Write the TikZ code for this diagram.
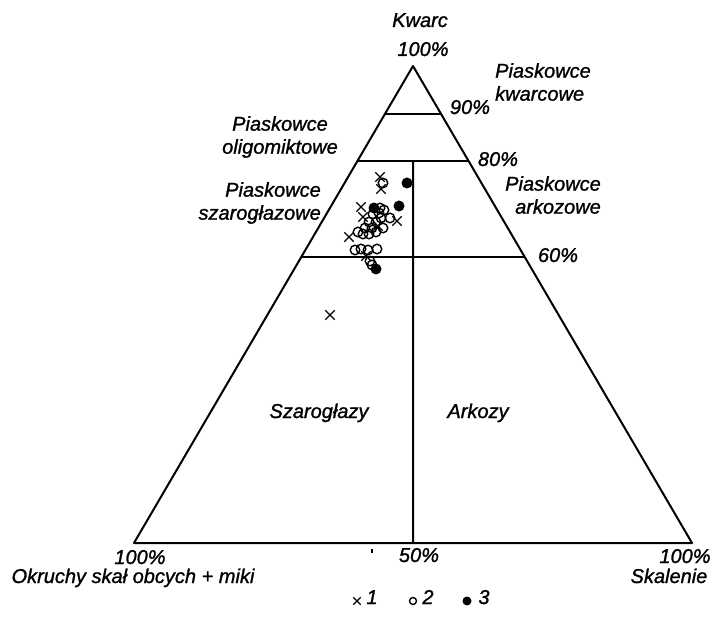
\documentclass[tikz,border=0pt]{standalone}
\usepackage{fontspec}
\setmainfont{Liberation Sans}[ItalicFeatures={FakeBold=1.2}]
\usetikzlibrary{calc, shapes.misc}

\begin{document}
\begin{tikzpicture}[x=1pt, y=-1pt,
  every node/.style={font=\fontsize{20}{23}\selectfont\itshape, inner sep=0pt},
  edge/.style={line width=2pt, line join=round},
  lbl/.style={text height=14pt, text depth=4pt},
  xpt/.style={cross out, draw, line width=1.4pt, minimum size=8pt},
  opt/.style={circle, draw, line width=1.4pt, minimum size=9.5pt},
  dpt/.style={circle, fill, minimum size=11pt}
]
  \useasboundingbox (0,0) rectangle (710,628);
  % wierzcholki
  \coordinate (A) at (413,66);
  \coordinate (L) at (134,543);
  \coordinate (R) at (692,543);
  \coordinate (A90L) at ($(A)!0.1!(L)$);  \coordinate (A90R) at ($(A)!0.1!(R)$);
  \coordinate (A80L) at ($(A)!0.2!(L)$);  \coordinate (A80R) at ($(A)!0.2!(R)$);
  \coordinate (A60L) at ($(A)!0.4!(L)$);  \coordinate (A60R) at ($(A)!0.4!(R)$);
  \coordinate (M80) at ($(A80L)!0.5!(A80R)$);
  \coordinate (M0) at ($(L)!0.5!(R)$);
  \draw[edge] (A) -- (L) -- (R) -- cycle;
  \draw[edge] (A90L) -- (A90R);
  \draw[edge] (A80L) -- (A80R);
  \draw[edge] (A60L) -- (A60R);
  \draw[edge] (M80) -- (M0);
  \coordinate (t1) at (372,549); \coordinate (t2) at (372,553);
  \draw[line width=1.2pt] (t1) -- (t2);

  % opisy
  \node[lbl] (kw) at (420,22) {Kwarc};
  \node[lbl] (p100) at (423,51) {100\%};
  \node[lbl] (p90) at (470,109) {90\%};
  \node[lbl] (p80) at (498,161) {80\%};
  \node[lbl] (p60) at (558,257) {60\%};
  \node[align=left, anchor=west] (pkw) at (495,82) {Piaskowce\\kwarcowe};
  \node[align=center] (pol) at (280,137) {Piaskowce\\oligomiktowe};
  \node[align=right, anchor=east] (psz) at (321,203) {Piaskowce\\szarogłazowe};
  \node[align=right, anchor=east] (par) at (601,195) {Piaskowce\\arkozowe};
  \node[lbl] (sz) at (319,413) {Szarogłazy};
  \node[lbl] (ark) at (478,413) {Arkozy};
  \node[lbl] (p50) at (419,557) {50\%};
  \node[lbl] (pL) at (140,559) {100\%};
  \node[lbl] (okr) at (133,578) {Okruchy skał obcych + miki};
  \node[lbl] (pR) at (685,558) {100\%};
  \node[lbl] (ska) at (669,578) {Skalenie};

  % punkty
  \foreach \p [count=\i] in {(380,177),(381,189),(361,207),(363,217),(397,221),
      (378,226),(349,237),(366,256),(330,315)}
    \node[xpt] (x\i) at \p {};
  \foreach \p [count=\i] in {(383,183),(380,208),(384,210),(373,214),(379,213),
      (390,218),(381,218),(369,222),(376,222),(365,228),(372,228),(383,228),
      (358,232),(363,234),(369,234),(376,232),(355,250),(361,249),(368,250),
      (377,249),(370,261),(372,265)}
    \node[opt] (o\i) at \p {};
  \foreach \p [count=\i] in {(407,183),(399,206),(374,208),(376,269)}
    \node[dpt] (d\i) at \p {};

  % legenda
  \node[xpt, minimum size=6pt] (lx) at (357,601) {};
  \node[lbl] (l1) at (372,599) {1};
  \node[opt, minimum size=7pt] (lo) at (413,601) {};
  \node[lbl] (l2) at (428,599) {2};
  \node[dpt, minimum size=9pt] (ld) at (467,601) {};
  \node[lbl] (l3) at (484,599) {3};
\end{tikzpicture}
\end{document}
